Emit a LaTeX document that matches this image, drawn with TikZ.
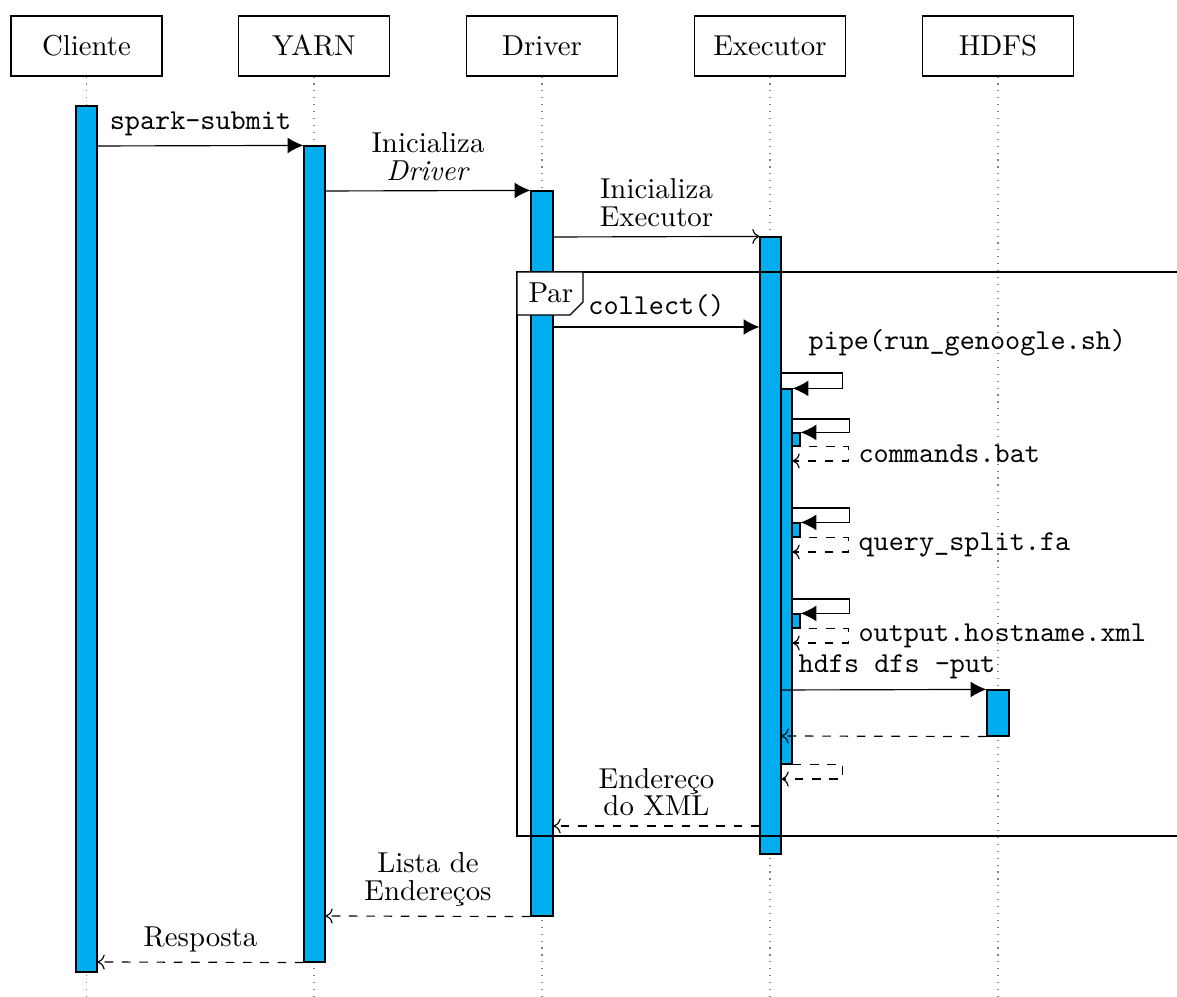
\documentclass[tikz,border=0pt]{standalone}
\usetikzlibrary{arrows.meta,fit}
\definecolor{actfill}{RGB}{0,174,239}
\begin{document}
\begin{tikzpicture}[x=0.3472pt,y=-0.3472pt,
  inst/.style={draw, fill=white, minimum width=52.4pt, minimum height=20.8pt, inner sep=0pt},
  life/.style={gray, dotted},
  actbar/.style={draw, fill=actfill, inner sep=0pt},
  call/.style={-{Latex[length=5.5pt,width=5.5pt]}},
  msg/.style={->},
  ret/.style={->, dashed},
  lbl/.style={align=center},
  code/.style={font=\ttfamily}]
\useasboundingbox (0,0) rectangle (1177,997);

% participants
\node[inst] (cli)  at (86.5,46)  {Cliente};
\node[inst] (yarn) at (314,46)   {YARN};
\node[inst] (drv)  at (542,46)   {Driver};
\node[inst] (exe)  at (770,46)   {Executor};
\node[inst] (hdfs) at (998,46)   {HDFS};

% lifelines
\coordinate (cliEnd)  at (86.5,997);
\coordinate (yarnEnd) at (314,997);
\coordinate (drvEnd)  at (542,997);
\coordinate (exeEnd)  at (770,997);
\coordinate (hdfsEnd) at (998,997);
\draw[life] (cli) -- (cliEnd);
\draw[life] (yarn) -- (yarnEnd);
\draw[life] (drv) -- (drvEnd);
\draw[life] (exe) -- (exeEnd);
\draw[life] (hdfs) -- (hdfsEnd);

% activation bars
\node[actbar, fit={(76,106) (97,972)}]   (cliA)  {};
\node[actbar, fit={(304,146) (325,962)}] (yarnA) {};
\node[actbar, fit={(531,191) (553,916)}] (drvA)  {};
\node[actbar, fit={(760,237) (781,854)}] (exeA)  {};
\node[actbar, fit={(781,389) (792,764)}] (nestA) {};
\node[actbar, fit={(792,433) (800,446)}] (subA)  {};
\node[actbar, fit={(792,523) (800,537)}] (subB)  {};
\node[actbar, fit={(792,614) (800,628)}] (subC)  {};
\node[actbar, fit={(987,690) (1009,736)}] (hdfsA) {};

% messages
\draw[call] (cliA.east |- 0,146) -- node[above, code] {spark-submit} (yarnA.north west);
\draw[call] (yarnA.east |- 0,191) -- node[above, lbl] {Inicializa\\[-2.5pt]\textit{Driver}} (drvA.north west);
\draw[msg] (drvA.east |- 0,237) -- node[above, lbl] {Inicializa\\[-2.5pt]Executor} (exeA.north west);
\draw[call] (drvA.east |- 0,327) -- node[above, code] {collect()} (exeA.west |- 0,327);

% self calls on the executor
\draw[call] (exeA.east |- 0,373) -- ++(61,0) |- (nestA.north east);
\node[code, anchor=base west, inner sep=0pt] (pipeLbl) at (808,350) {pipe(run\_genoogle.sh)};

\draw[call] (nestA.east |- 0,419) -- ++(57,0) |- (subA.north east);
\draw[ret] (subA.south west) -- ++(57,0) |- node[pos=0.25, right, code] {commands.bat} (nestA.east |- 0,461);

\draw[call] (nestA.east |- 0,508) -- ++(57,0) |- (subB.north east);
\draw[ret] (subB.south west) -- ++(57,0) |- node[pos=0.25, right, code] {query\_split.fa} (nestA.east |- 0,552);

\draw[call] (nestA.east |- 0,599) -- ++(57,0) |- (subC.north east);
\draw[ret] (subC.south west) -- ++(57,0) |- node[pos=0.25, right, code] {output.hostname.xml} (nestA.east |- 0,643);

% upload to HDFS
\draw[call] (exeA.east |- 0,690) -- (hdfsA.north west);
\node[code, anchor=base] (putLbl) at (897,673) {hdfs dfs -put};
\draw[ret] (hdfsA.south west) -- (exeA.east |- 0,736);

\draw[ret] (nestA.south east) -- ++(50,0) |- (exeA.east |- 0,779);

% replies
\draw[ret] (exeA.west |- 0,826) -- node[above, lbl] {Endere\c{c}o\\[-2.5pt]do XML} (drvA.east |- 0,826);
\draw[ret] (drvA.south west) -- node[above, lbl] {Lista de\\[-2.5pt]Endere\c{c}os} (yarnA.east |- 0,916);
\draw[ret] (yarnA.south west) -- node[above] {Resposta} (cliA.east |- 0,962);

% par fragment
\draw (1177,272) -- (517,272) -- (517,836) -- (1177,836);
\draw[fill=white] (517,272) -- (583,272) -- (583,302) -- (570,315) -- (517,315) -- cycle;
\node[anchor=base west, inner sep=0pt] (parLbl) at (528,303) {Par};
\end{tikzpicture}
\end{document}
